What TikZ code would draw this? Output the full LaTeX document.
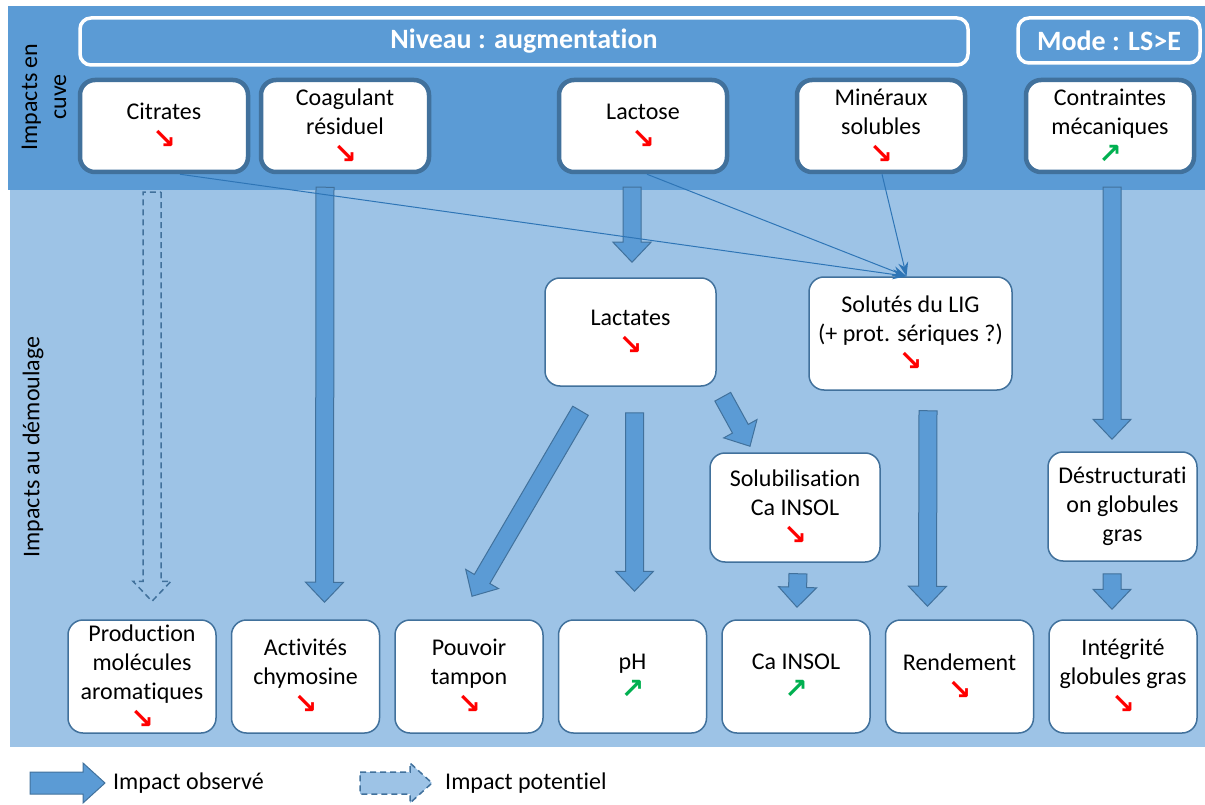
\documentclass[tikz,border=0pt]{standalone}
\usepackage{fontspec}
\setmainfont{Carlito}[Ligatures=CommonOff]
\newfontfamily\flechefont{DejaVu Sans}
\usetikzlibrary{arrows.meta, positioning, calc}

\definecolor{bandtop}{HTML}{5B9BD5}
\definecolor{bandlow}{HTML}{9DC3E6}
\definecolor{edge}{HTML}{41719C}
\definecolor{thinline}{HTML}{2E75B6}
\definecolor{dnred}{HTML}{FF0000}
\definecolor{upgreen}{HTML}{00B050}

\newcommand{\baisse}{{\fontsize{28}{29}\flechefont\bfseries\color{dnred}↘}}
\newcommand{\hausse}{{\fontsize{28}{29}\flechefont\bfseries\color{upgreen}↗}}

\tikzset{
  shaftw/.store in=\shaftw, headw/.store in=\headw, headl/.store in=\headl,
  shaftw=9pt, headw=19pt, headl=20pt,
  blockarr/.style={draw=edge, line width=1pt, fill=bandtop, line join=miter,
    to path={($(\tikztostart)!\shaftw!90:(\tikztotarget)$)
      -- ($(\tikztotarget)!\headl!(\tikztostart)!\shaftw!90:(\tikztotarget)$)
      -- ($(\tikztotarget)!\headl!(\tikztostart)!\headw!90:(\tikztotarget)$)
      -- (\tikztotarget)
      -- ($(\tikztotarget)!\headl!(\tikztostart)!\headw!-90:(\tikztotarget)$)
      -- ($(\tikztotarget)!\headl!(\tikztostart)!\shaftw!-90:(\tikztotarget)$)
      -- ($(\tikztostart)!\shaftw!-90:(\tikztotarget)$) -- cycle}},
  potarr/.style={blockarr, line width=1.5pt, dash pattern=on 6pt off 4pt, fill=bandlow}
}

\begin{document}
\begin{tikzpicture}[x=1pt, y=-1pt,
  font=\fontsize{24}{29}\selectfont,
  node distance=14pt,
  box/.style={draw=edge, line width=1.5pt, fill=white, rounded corners=15pt,
              align=center, inner sep=0pt, minimum width=148pt, minimum height=113pt},
  topbox/.style={box, line width=4.5pt, minimum width=168pt, minimum height=92pt},
  titlebox/.style={draw=white, line width=3.5pt, fill=bandtop, rounded corners=11pt,
                   text=white, inner sep=0pt, font=\fontsize{28}{32}\selectfont\bfseries},
  link/.style={draw=thinline, line width=1pt, -{Stealth[length=14pt, width=10pt]}}]
  \useasboundingbox (0,0) rectangle (1205,805);
  % bands
  \fill[bandtop] (8,6) rectangle (1205,190);
  \fill[bandlow] (10,190) rectangle (1205,747);
  \node[rotate=90, align=center] (encuve) at (44,97) {Impacts en\\cuve};
  \node[rotate=90] (demoul) at (33,447) {Impacts au démoulage};

  \node[titlebox, minimum width=888pt, minimum height=47pt] (niveau) at (524,41.5) {Niveau : augmentation};
  \node[titlebox, minimum width=182pt, minimum height=45pt] (mode) at (1109,40.5) {Mode : LS>E};

  % en cuve
  \node[topbox] (citr) at (164,126) {Citrates\\\baisse};
  \node[topbox] (coag) at (345,126) {Coagulant\\résiduel\\\baisse};
  \node[topbox] (lact) at (643,126) {Lactose\\\baisse};
  \node[topbox] (mine) at (881,126) {Minéraux\\solubles\\\baisse};
  \node[topbox] (cont) at (1110,126) {Contraintes\\mécaniques\\\hausse};

  % intermediaires
  \node[box, minimum width=171pt, minimum height=108pt] (lactates) at (630.5,332) {Lactates\\\baisse};
  \node[box, minimum width=203pt] (solutes) at (910.5,333.5) {Solutés du LIG\\(+ prot. sériques ?)\\\baisse};
  \node[box, minimum width=170pt, minimum height=109pt] (solub) at (795,507.5) {Solubilisation\\Ca INSOL\\\baisse};
  \node[box, minimum width=149pt, minimum height=109pt] (destr) at (1122.5,506.5) {Déstructurati\\on globules\\gras};

  % au demoulage
  \node[box] (prod) at (142,676.5) {Production\\molécules\\aromatiques\\\baisse};
  \node[box, right=of prod] (chym) {Activités\\chymosine\\\baisse};
  \node[box, right=of chym] (tamp) {Pouvoir\\tampon\\\baisse};
  \node[box, right=of tamp] (ph) {pH\\\hausse};
  \node[box, right=of ph] (cains) {Ca INSOL\\\hausse};
  \node[box, right=of cains] (rend) {Rendement\\\baisse};
  \node[box, right=of rend] (integ) {Intégrité\\globules gras\\\baisse};

  % fleches
  \draw[potarr] ([xshift=-12pt,yshift=-18pt]citr.south) to ([xshift=10pt,yshift=18pt]prod.north);
  \draw[blockarr] ([xshift=-20pt,yshift=-13pt]coag.south) to ([xshift=19pt,yshift=17pt]chym.north);
  \draw[blockarr] ([xshift=-11pt,yshift=-13pt]lact.south) to ([xshift=1.5pt,yshift=15pt]lactates.north);
  \draw[blockarr] ([xshift=-50pt,yshift=-24pt]lactates.south) to ([xshift=3pt,yshift=23pt]tamp.north);
  \draw[blockarr] ([xshift=4pt,yshift=-26pt]lactates.south) to ([xshift=2pt,yshift=28pt]ph.north);
  \draw[blockarr] ([xshift=6pt,yshift=-10pt]lactates.south east) to ([xshift=-45pt,yshift=6pt]solub.north);
  \draw[blockarr] ([xshift=3pt,yshift=-11pt]solub.south) to ([xshift=1pt,yshift=12pt]cains.north);
  \draw[blockarr] ([xshift=17.5pt,yshift=-20pt]solutes.south) to ([xshift=-32pt,yshift=13pt]rend.north);
  \draw[blockarr] ([xshift=2pt,yshift=-13pt]cont.south) to ([xshift=-10.5pt,yshift=12pt]destr.north);
  \draw[blockarr] ([xshift=-10.5pt,yshift=-12pt]destr.south) to ([xshift=-11pt,yshift=10pt]integ.north);

  \draw[link] ([xshift=16pt]citr.south) -- ([xshift=-4pt]solutes.north);
  \draw[link] ([xshift=4pt]lact.south) -- ([xshift=-4pt]solutes.north);
  \draw[link] ([xshift=1pt]mine.south) -- ([xshift=-4pt]solutes.north);

  % legende
  \coordinate (obsA) at (30,783);
  \coordinate (obsB) at (105,783);
  \coordinate (potA) at (360,783);
  \coordinate (potB) at (432,783);
  \draw[blockarr, shaftw=11pt, headw=20pt, headl=22pt] (obsA) to (obsB);
  \draw[potarr, shaftw=11pt, headw=20pt, headl=22pt] (potA) to (potB);
  \node[right=8pt of obsB, inner sep=0pt] (obs) {Impact observé};
  \node[right=13pt of potB, inner sep=0pt] (pot) {Impact potentiel};
\end{tikzpicture}
\end{document}
